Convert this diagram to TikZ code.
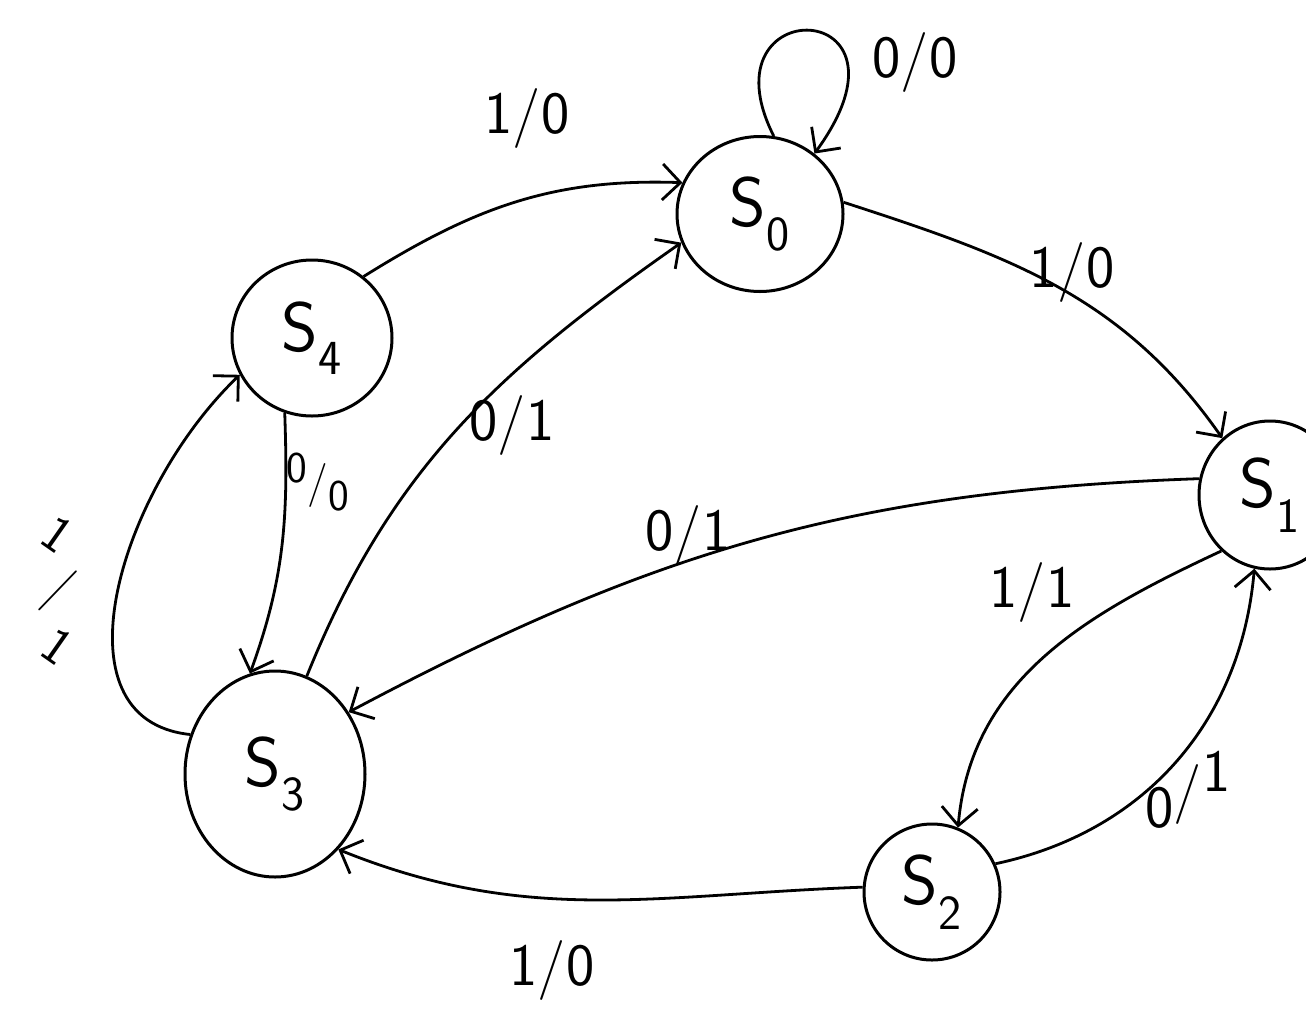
\documentclass[tikz,border=0pt]{standalone}
\usetikzlibrary{arrows.meta,shapes.geometric}
\begin{document}
\begin{tikzpicture}[x=1pt,y=1pt,
  st/.style={draw, ellipse, line width=3pt, inner sep=0pt,
    font=\fontsize{70}{72}\selectfont\sffamily},
  tr/.style={line width=2.8pt, -{Straight Barb[length=18pt,width=36pt]}},
  lbl/.style={font=\fontsize{60}{62}\selectfont\sffamily, inner sep=0pt}]
\useasboundingbox[fill=white] (0,0) rectangle (1306,-1023);

% states
\node[st, minimum width=166pt, minimum height=155pt] (S0) at (760,-214) {S\textsubscript{0}};
\node[st, minimum width=142pt, minimum height=148pt] (S1) at (1270,-495) {S\textsubscript{1}};
\node[st, minimum width=136pt, minimum height=136pt] (S2) at (932,-892) {S\textsubscript{2}};
\node[st, minimum width=180pt, minimum height=206pt] (S3) at (275,-774) {S\textsubscript{3}};
\node[st, minimum width=160pt, minimum height=156pt] (S4) at (312,-338) {S\textsubscript{4}};

% transitions
\draw[tr] (S4.50) to[out=32,in=178] (S0.158);
\draw[tr] (S0.80) .. controls (700,10) and (930,5) .. (S0.48);
\draw[tr] (S0.8) to[out=-18,in=125] (S1.130);
\draw[tr] (S3.72) to[out=68,in=215] (S0.200);
\draw[tr] (S4.250) to[out=-88,in=70] (S3.104);
\draw[tr] (S3.155) .. controls (50,-720) and (120,-490) .. (S4.207);
\draw[tr] (S1.167) to[out=182,in=28] (S3.40);
\draw[tr] (S1.229) to[out=205,in=85] (S2.68);
\draw[tr] (S2.24) to[out=12,in=265] (S1.258);
\draw[tr] (S2.176) to[out=182,in=-22] (S3.310);

% labels
\node[lbl] (l40) at (527,-118) {1/0};
\node[lbl] (l00) at (915,-62) {0/0};
\node[lbl] (l01) at (1072,-272) {1/0};
\node[lbl] (l30) at (512,-425) {0/1};
\node[lbl, font=\fontsize{44}{46}\selectfont\sffamily] (l43) at (318,-482)
  {\raisebox{14pt}{0}/\raisebox{-14pt}{0}};
\node[lbl, align=center, font=\fontsize{52}{54}\selectfont\sffamily] (l34) at (58,-590)
  {\rotatebox{-35}{1}\\[2pt]\rotatebox{-25}{/}\\[2pt]\rotatebox{-35}{1}};
\node[lbl] (l13) at (688,-535) {0/1};
\node[lbl] (l12) at (1032,-592) {1/1};
\node[lbl] (l21) at (1188,-790) {\raisebox{-18pt}{0}/\raisebox{18pt}{1}};
\node[lbl] (l23) at (552,-970) {1/0};
\end{tikzpicture}
\end{document}
